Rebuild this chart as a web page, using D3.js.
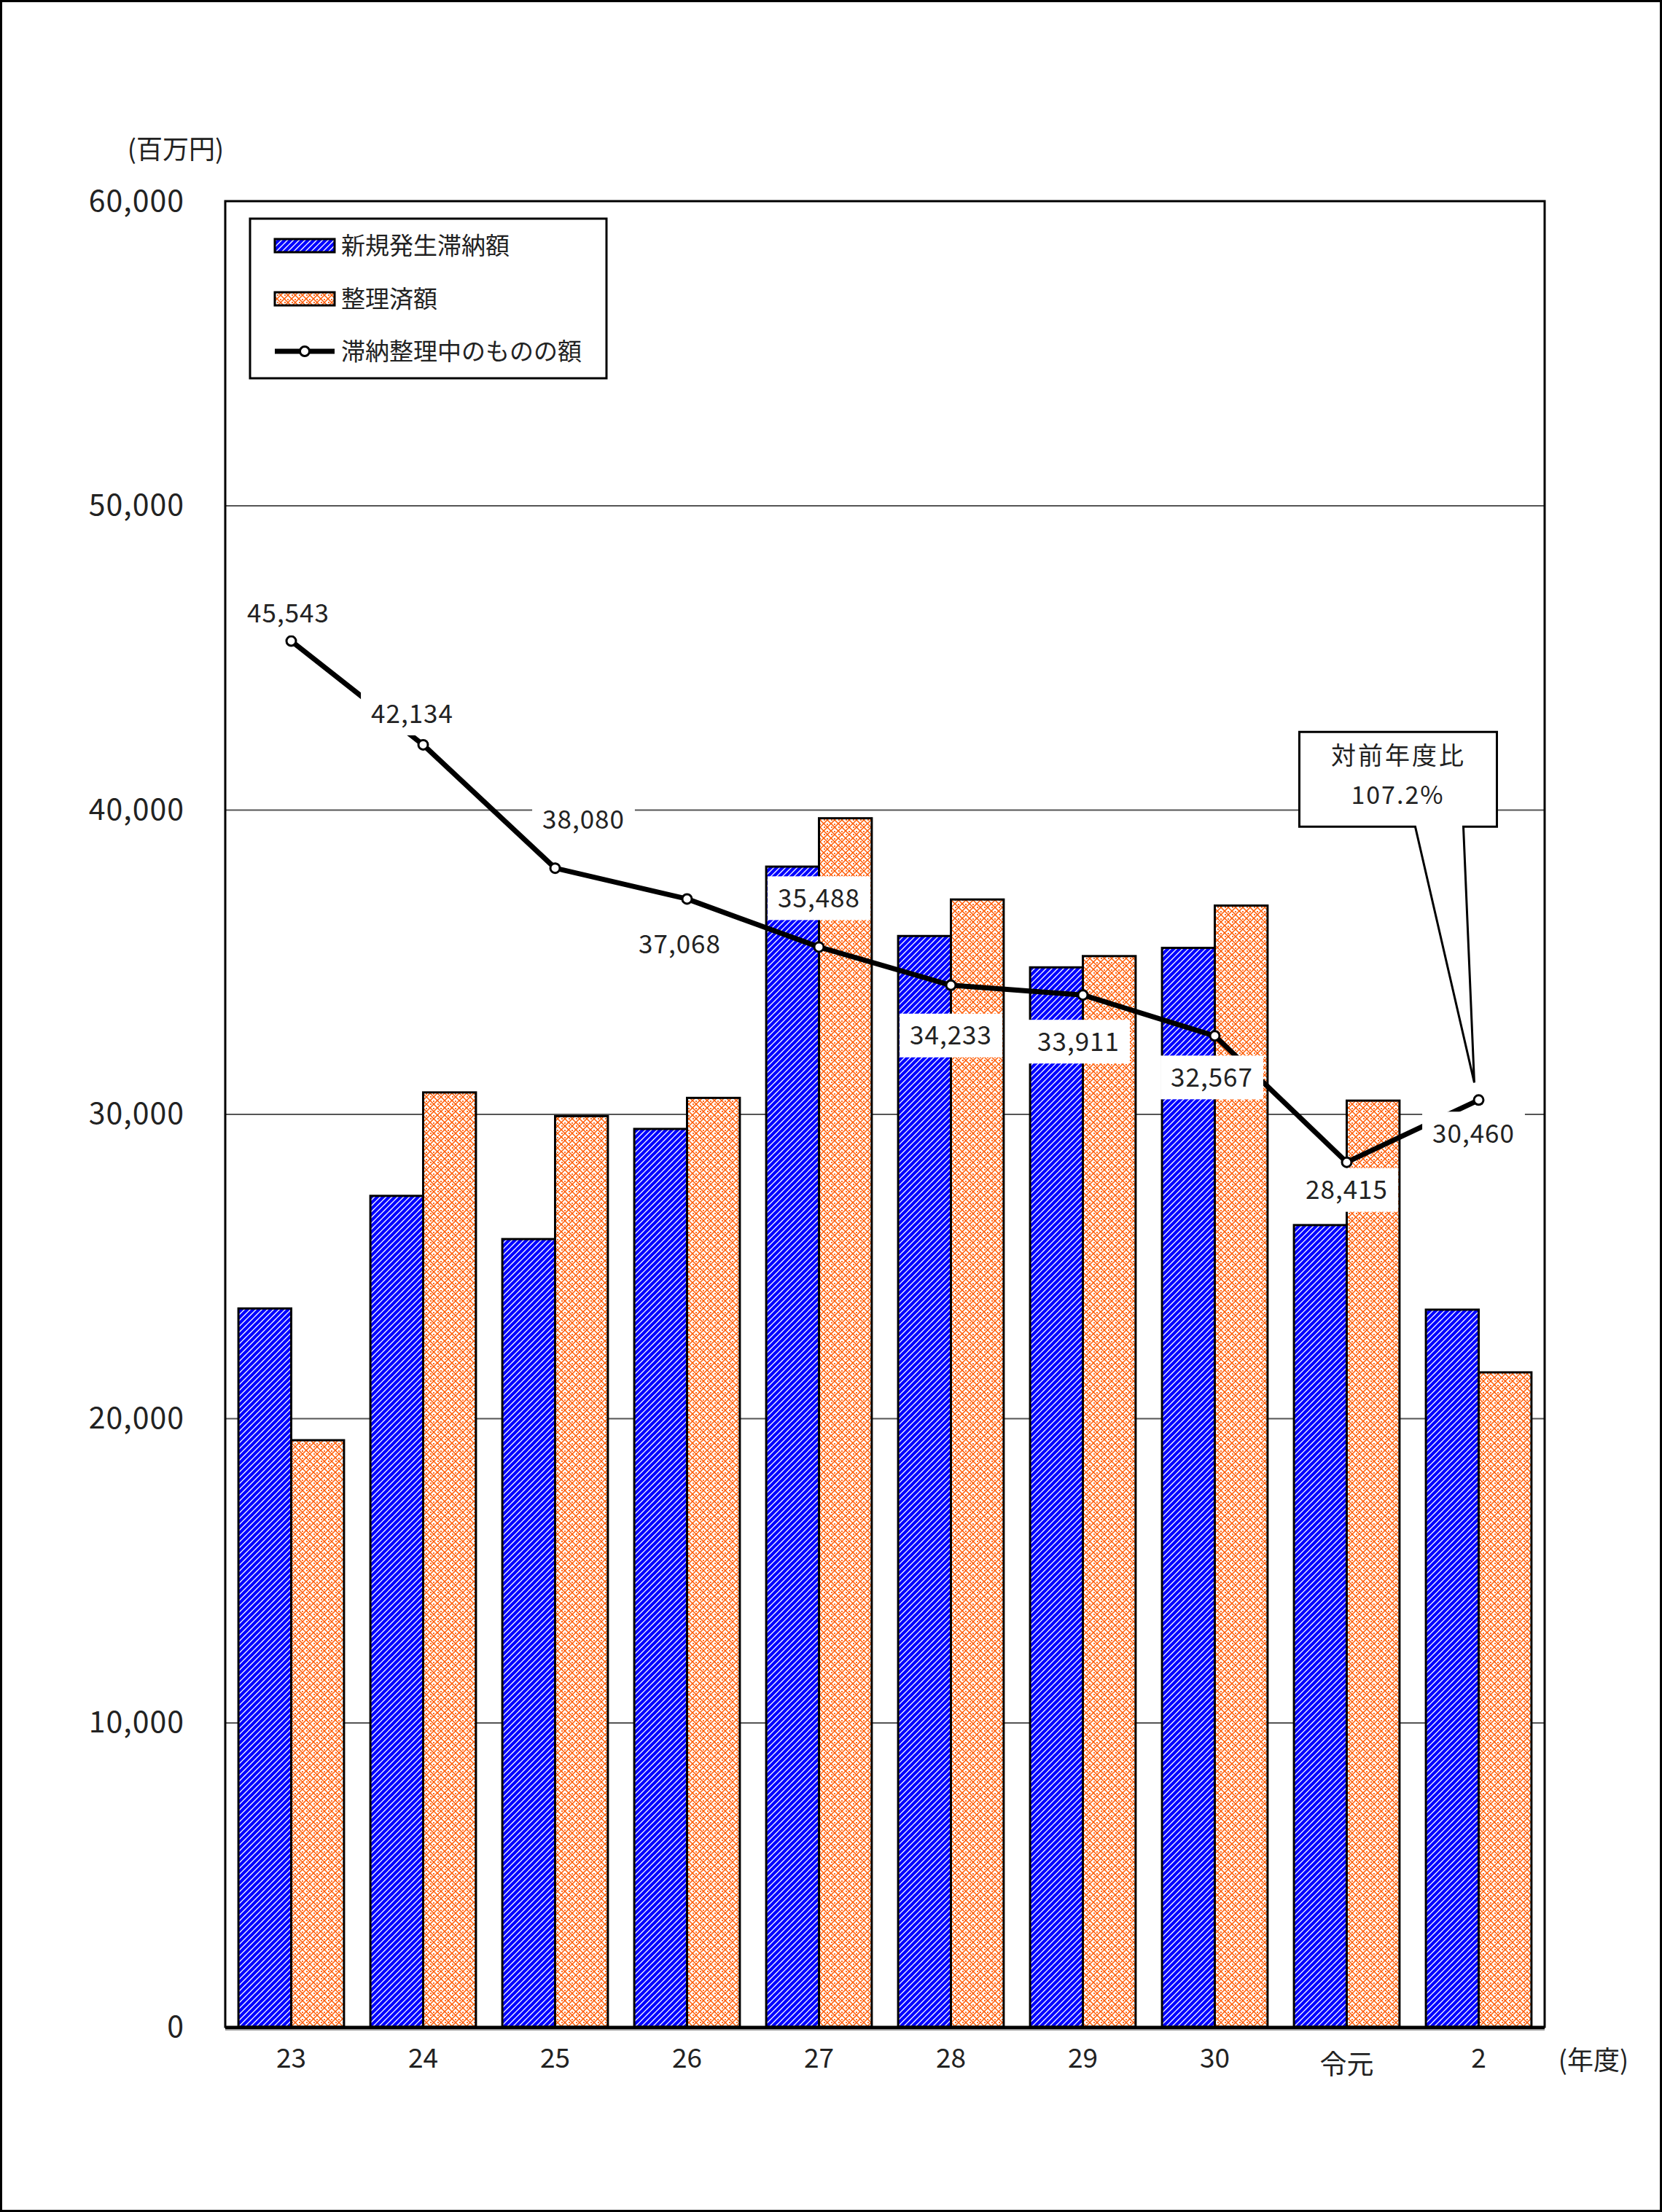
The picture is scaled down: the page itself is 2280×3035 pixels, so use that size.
<!DOCTYPE html>
<html>
<head>
<meta charset="utf-8">
<script src="https://cdn.jsdelivr.net/npm/d3@7"></script>
<style>
  html, body { margin: 0; padding: 0; background: #fff; }
  svg { display: block; }
  text { font-family: "Noto Sans CJK JP", "Noto Sans", sans-serif; fill: #222; }
</style>
</head>
<body>
<script>
// ---- data ----
const categories = ["23", "24", "25", "26", "27", "28", "29", "30", "令元", "2"];
const newArrears = [23610, 27310, 25890, 29510, 38130, 35850, 34820, 35460, 26350, 23570];
const settled    = [19280, 30710, 29930, 30530, 39720, 37050, 35190, 36850, 30440, 21510];
const pending    = [45543, 42134, 38080, 37068, 35488, 34233, 33911, 32567, 28415, 30460];
const seriesNames = ["新規発生滞納額", "整理済額", "滞納整理中のものの額"];
const yTicks = [0, 10000, 20000, 30000, 40000, 50000, 60000];
const yUnit = "(百万円)";
const xUnit = "(年度)";
const calloutLines = ["対前年度比", "107.2%"];
// label offsets (pixels) from each line point
const labelDx = [-4, -15, 39, -10, 0, 0, -6, -4, 0, -7];
const labelDy = [-38, -43, -67, 62, -67, 69, 64, 57, 38, 46];

// ---- layout ----
const W = 2280, H = 3035;
const plot = { left: 309, right: 2119, top: 276, bottom: 2781 };

const svg = d3.select("body").append("svg").attr("width", W).attr("height", H);
svg.append("rect").attr("width", W).attr("height", H).attr("fill", "#fff");

// patterns
const defs = svg.append("defs");
const pb = defs.append("pattern").attr("id", "blueStripe").attr("patternUnits", "userSpaceOnUse")
  .attr("width", 8).attr("height", 8);
pb.append("rect").attr("width", 8).attr("height", 8).attr("fill", "#fff");
pb.append("path").attr("d", "M-2,2 L2,-2 M0,8 L8,0 M6,10 L10,6")
  .attr("stroke", "#0000ff").attr("stroke-width", 4.4);

const po = defs.append("pattern").attr("id", "orangeLattice").attr("patternUnits", "userSpaceOnUse")
  .attr("width", 10).attr("height", 10);
po.append("rect").attr("width", 10).attr("height", 10).attr("fill", "#fff");
po.append("path").attr("d", "M0,0 L10,10 M10,0 L0,10")
  .attr("stroke", "#ff5a00").attr("stroke-width", 1.5);
po.append("rect").attr("x", 4).attr("y", 0).attr("width", 2).attr("height", 2).attr("fill", "#ff6a20");
po.append("rect").attr("x", 0).attr("y", 4).attr("width", 2).attr("height", 2).attr("fill", "#ff6a20");

// scales
const x = d3.scaleBand().domain(categories).range([plot.left, plot.right])
  .paddingInner(0.2).paddingOuter(0.1);
const xs = d3.scaleBand().domain([0, 1]).range([0, x.bandwidth()]);
const y = d3.scaleLinear().domain([0, 60000]).range([plot.bottom, plot.top]);

// gridlines + y tick labels via axis
const yAxis = d3.axisLeft(y).tickValues(yTicks).tickFormat(d3.format(","))
  .tickSize(-(plot.right - plot.left)).tickPadding(56);
const gy = svg.append("g").attr("transform", `translate(${plot.left},0)`).call(yAxis);
gy.select(".domain").remove();
gy.selectAll(".tick line").attr("stroke", "#555").attr("stroke-width", 2)
  .filter(d => d === 0 || d === 60000).remove();
gy.selectAll(".tick text").attr("font-size", 41).attr("fill", "#222").attr("letter-spacing", 1)
  .style("font-family", '"Noto Sans CJK JP", sans-serif');

// bars
const gBars = svg.append("g");
categories.forEach((c, i) => {
  [[newArrears[i], "url(#blueStripe)"], [settled[i], "url(#orangeLattice)"]].forEach((s, j) => {
    gBars.append("rect")
      .attr("x", x(c) + xs(j))
      .attr("y", y(s[0]))
      .attr("width", xs.bandwidth())
      .attr("height", y(0) - y(s[0]))
      .attr("fill", s[1])
      .attr("stroke", "#000").attr("stroke-width", 3);
  });
});

// plot frame
svg.append("rect").attr("x", plot.left).attr("y", plot.top)
  .attr("width", plot.right - plot.left).attr("height", plot.bottom - plot.top)
  .attr("fill", "none").attr("stroke", "#000").attr("stroke-width", 3);
svg.append("line").attr("x1", plot.left).attr("x2", plot.right)
  .attr("y1", plot.bottom + 1).attr("y2", plot.bottom + 1)
  .attr("stroke", "#000").attr("stroke-width", 4);
svg.append("line").attr("x1", plot.left).attr("x2", plot.right)
  .attr("y1", plot.bottom + 4).attr("y2", plot.bottom + 4)
  .attr("stroke", "#999").attr("stroke-width", 2);

// x axis labels via axis
const xAxis = d3.axisBottom(x).tickSize(0).tickPadding(30);
const gx = svg.append("g").attr("transform", `translate(0,${plot.bottom})`).call(xAxis);
gx.select(".domain").remove();
gx.selectAll(".tick text").attr("font-size", 37).attr("fill", "#222")
  .attr("dy", d => d === "令元" ? "0.95em" : "0.71em")
  .style("font-family", '"Noto Sans CJK JP", sans-serif');

svg.append("text").attr("x", 2186).attr("y", 2827).attr("dy", "0.35em")
  .attr("text-anchor", "middle").attr("font-size", 36).text(xUnit);
svg.append("text").attr("x", 241).attr("y", 205).attr("dy", "0.35em")
  .attr("text-anchor", "middle").attr("font-size", 36).text(yUnit);

// line
const cx = (c) => x(c) + x.bandwidth() / 2;
const pts = categories.map((c, i) => [cx(c), y(pending[i])]);
svg.append("path").attr("d", d3.line()(pts))
  .attr("fill", "none").attr("stroke", "#000").attr("stroke-width", 7)
  .attr("stroke-linejoin", "round");
svg.append("g").selectAll("circle").data(pts).join("circle")
  .attr("cx", d => d[0]).attr("cy", d => d[1]).attr("r", 6.5)
  .attr("fill", "#fff").attr("stroke", "#000").attr("stroke-width", 3);

// data labels with white boxes
const gLab = svg.append("g");
categories.forEach((c, i) => {
  const lx = pts[i][0] + labelDx[i], ly = pts[i][1] + labelDy[i];
  const g = gLab.append("g");
  const r = g.append("rect").attr("fill", "#fff");
  const t = g.append("text").attr("x", lx).attr("y", ly).attr("dy", "0.36em")
    .attr("text-anchor", "middle").attr("font-size", 35).attr("letter-spacing", 1).attr("fill", "#222")
    .text(d3.format(",")(pending[i]));
  const bb = t.node().getBBox();
  r.attr("x", lx - bb.width / 2 - 14).attr("y", ly - 30)
   .attr("width", bb.width + 28).attr("height", 60);
});

// legend
const lg = svg.append("g");
lg.append("rect").attr("x", 343).attr("y", 300).attr("width", 489).attr("height", 219)
  .attr("fill", "#fff").attr("stroke", "#000").attr("stroke-width", 3);
const legY = [337, 410, 482];
const legFill = ["url(#blueStripe)", "url(#orangeLattice)"];
seriesNames.forEach((name, i) => {
  if (i < 2) {
    lg.append("rect").attr("x", 377).attr("y", legY[i] - 9).attr("width", 82).attr("height", 18)
      .attr("fill", legFill[i]).attr("stroke", "#000").attr("stroke-width", 3);
  } else {
    lg.append("line").attr("x1", 377).attr("x2", 459).attr("y1", legY[i]).attr("y2", legY[i])
      .attr("stroke", "#000").attr("stroke-width", 7);
    lg.append("circle").attr("cx", 418).attr("cy", legY[i]).attr("r", 6.5)
      .attr("fill", "#fff").attr("stroke", "#000").attr("stroke-width", 3);
  }
  lg.append("text").attr("x", 468).attr("y", legY[i]).attr("dy", "0.36em")
    .attr("font-size", 33).attr("fill", "#222").text(name);
});

// callout pointing at the last point
const last = pts[pts.length - 1];
const tip = [last[0] - 6, last[1] - 24];
const bx0 = last[0] - 246, by0 = last[1] - 505, bw = 271, bh = 130;
const cg = svg.append("g");
cg.append("path")
  .attr("d", `M${bx0},${by0} H${bx0 + bw} V${by0 + bh} H${bx0 + 225} L${tip[0]},${tip[1]} L${bx0 + 159},${by0 + bh} H${bx0} Z`)
  .attr("fill", "#fff").attr("stroke", "#000").attr("stroke-width", 3).attr("stroke-linejoin", "miter");
cg.append("text").attr("x", bx0 + 136).attr("y", by0 + 32).attr("dy", "0.36em")
  .attr("text-anchor", "middle").attr("font-size", 34).attr("font-weight", "normal")
  .attr("letter-spacing", 3).attr("fill", "#000").text(calloutLines[0]);
cg.append("text").attr("x", bx0 + 135).attr("y", by0 + 86).attr("dy", "0.36em")
  .attr("text-anchor", "middle").attr("font-size", 34).attr("font-weight", "normal")
  .attr("letter-spacing", 2).attr("fill", "#000").text(calloutLines[1]);

// outer border
svg.append("rect").attr("x", 1.5).attr("y", 1.5).attr("width", W - 3).attr("height", H - 3)
  .attr("fill", "none").attr("stroke", "#000").attr("stroke-width", 3);
</script>
</body>
</html>
